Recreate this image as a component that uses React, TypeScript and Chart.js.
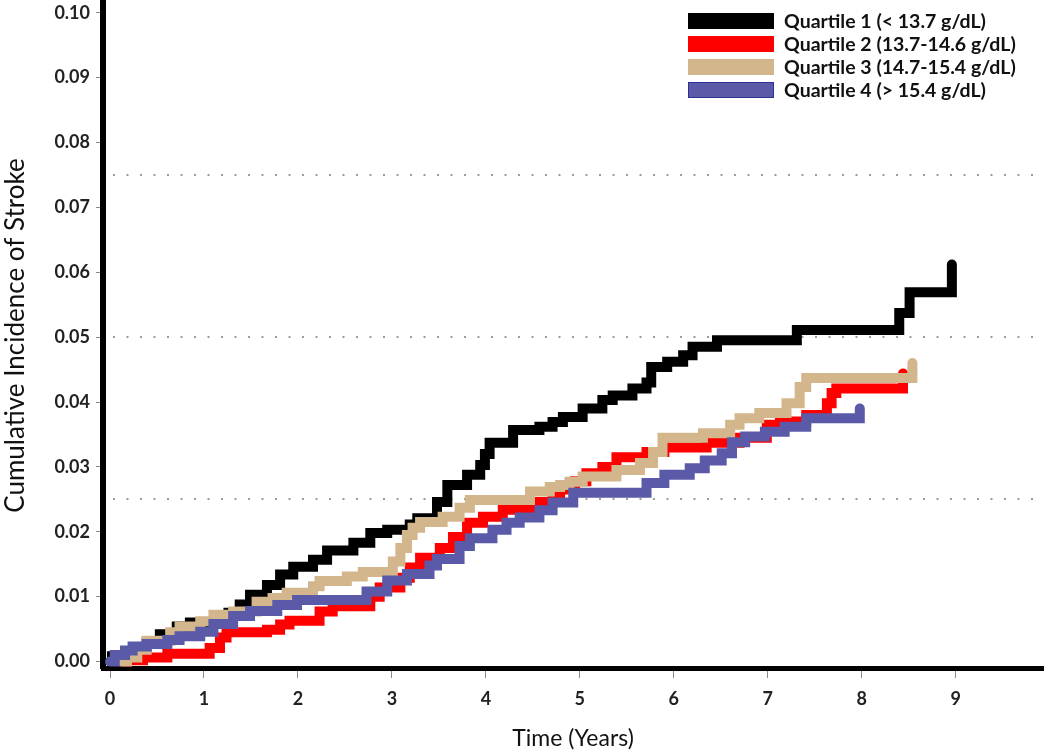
import { useEffect, useRef } from "react";
import { Chart, ChartConfiguration, registerables } from "chart.js";

Chart.register(...registerables);

// Kaplan-Meier style cumulative incidence (years, incidence)
const timeQ1 = [0, 0.02, 0.16, 0.29, 0.39, 0.53, 0.71, 0.85, 1.12, 1.26, 1.38, 1.49, 1.67, 1.81, 1.95, 2.16, 2.31, 2.59, 2.77, 2.95, 3.19, 3.27, 3.48, 3.59, 3.8, 3.94, 3.99, 4.04, 4.29, 4.57, 4.71, 4.82, 5.03, 5.24, 5.35, 5.56, 5.71, 5.76, 5.93, 6.1, 6.2, 6.46, 7.31, 8.4, 8.51, 8.96];
const incQ1 = [0, 0.0008, 0.0015, 0.0022, 0.003, 0.0042, 0.0054, 0.006, 0.0065, 0.0075, 0.0088, 0.0103, 0.0118, 0.0134, 0.0146, 0.0157, 0.0171, 0.0183, 0.0198, 0.0203, 0.0211, 0.0221, 0.0246, 0.0272, 0.0288, 0.0303, 0.032, 0.0337, 0.0357, 0.0362, 0.0369, 0.0377, 0.039, 0.0403, 0.041, 0.0421, 0.043, 0.0454, 0.0462, 0.0472, 0.0485, 0.0495, 0.0511, 0.0537, 0.0569, 0.0612];

const timeQ2 = [0.12, 0.18, 0.35, 0.61, 1.06, 1.17, 1.24, 1.67, 1.81, 1.91, 2.23, 2.37, 2.77, 2.87, 3.09, 3.19, 3.3, 3.51, 3.65, 3.8, 3.97, 4.18, 4.5, 4.71, 4.79, 4.95, 5.07, 5.24, 5.39, 5.71, 5.9, 6.35, 6.7, 6.99, 7.13, 7.41, 7.63, 7.68, 7.73, 8.44];
const incQ2 = [0, 0.0002, 0.0006, 0.0012, 0.0021, 0.0037, 0.0045, 0.0049, 0.0057, 0.0063, 0.0077, 0.0085, 0.01, 0.0114, 0.0129, 0.0145, 0.016, 0.0175, 0.0192, 0.0214, 0.0223, 0.0234, 0.0246, 0.0255, 0.0265, 0.0278, 0.029, 0.03, 0.0315, 0.0323, 0.033, 0.0337, 0.0345, 0.0365, 0.037, 0.038, 0.0398, 0.0414, 0.0421, 0.0444];

const timeQ3 = [0.12, 0.18, 0.29, 0.39, 0.64, 0.74, 0.96, 1.1, 1.31, 1.56, 1.73, 1.88, 2.16, 2.23, 2.52, 2.69, 3.01, 3.09, 3.16, 3.22, 3.3, 3.54, 3.72, 3.83, 4.47, 4.68, 4.79, 4.89, 5.03, 5.39, 5.64, 5.78, 5.88, 6.31, 6.6, 6.7, 6.91, 7.2, 7.34, 7.41, 8.54];
const incQ3 = [0, 0.0006, 0.0018, 0.0032, 0.0045, 0.0054, 0.0062, 0.0072, 0.0077, 0.0092, 0.0098, 0.0106, 0.0116, 0.0124, 0.0131, 0.0138, 0.0154, 0.0175, 0.0195, 0.0206, 0.0215, 0.0223, 0.0237, 0.0249, 0.0262, 0.0269, 0.0272, 0.0277, 0.0285, 0.0295, 0.0306, 0.0323, 0.0345, 0.0352, 0.0365, 0.0375, 0.0383, 0.0398, 0.0423, 0.0437, 0.046];

const timeQ4 = [0, 0.05, 0.16, 0.24, 0.39, 0.61, 0.74, 0.96, 1.1, 1.31, 1.49, 1.78, 1.99, 2.73, 2.95, 3.16, 3.4, 3.48, 3.72, 3.83, 4.07, 4.22, 4.36, 4.57, 4.71, 4.93, 5.71, 5.9, 6.17, 6.33, 6.51, 6.62, 6.76, 6.97, 7.18, 7.41, 7.98];
const incQ4 = [0, 0.001, 0.0017, 0.0023, 0.0027, 0.0033, 0.0039, 0.0046, 0.0058, 0.007, 0.0078, 0.0087, 0.0095, 0.0108, 0.0125, 0.0135, 0.0148, 0.0158, 0.0178, 0.019, 0.0203, 0.0214, 0.0222, 0.0233, 0.0245, 0.026, 0.0275, 0.0288, 0.0298, 0.031, 0.0321, 0.0338, 0.0347, 0.0354, 0.0362, 0.0375, 0.039];

const quartileLabels = [
  "Quartile 1 (< 13.7 g/dL)",
  "Quartile 2 (13.7-14.6 g/dL)",
  "Quartile 3 (14.7-15.4 g/dL)",
  "Quartile 4 (> 15.4 g/dL)",
];
const quartileColors = ["#000000", "#ff0000", "#d4b68c", "#5a5aa8"];
const refLines = [0.025, 0.05, 0.075];

const FONT = "Lato, 'Open Sans', sans-serif";

const toPoints = (t: number[], v: number[]) => t.map((x, i) => ({ x, y: v[i] }));

const refLinePlugin = {
  id: "refLines",
  beforeDatasetsDraw(chart: any) {
    const { ctx, chartArea, scales } = chart;
    ctx.save();
    ctx.strokeStyle = "#9c9c9c";
    ctx.lineWidth = 2;
    ctx.setLineDash([2, 11.5]);
    refLines.forEach((v) => {
      const y = Math.round(scales.y.getPixelForValue(v));
      ctx.beginPath();
      ctx.moveTo(chartArea.left + 10, y);
      ctx.lineTo(chartArea.right, y);
      ctx.stroke();
    });
    ctx.restore();
  },
};

export default function App() {
  const canvasRef = useRef<HTMLCanvasElement>(null);
  const chartRef = useRef<Chart | null>(null);

  useEffect(() => {
    if (!canvasRef.current) return;
    const ctx = canvasRef.current.getContext("2d");
    if (!ctx) return;
    if (chartRef.current) chartRef.current.destroy();

    const series = [
      toPoints(timeQ1, incQ1),
      toPoints(timeQ2, incQ2),
      toPoints(timeQ3, incQ3),
      toPoints(timeQ4, incQ4),
    ];
    // blue on top, then tan, red, black underneath
    const drawOrder = [3, 2, 1, 0];

    const config: ChartConfiguration = {
      type: "line",
      data: {
        datasets: series.map((data, i) => ({
          label: quartileLabels[i],
          data,
          borderColor: quartileColors[i],
          backgroundColor: quartileColors[i],
          borderWidth: 10,
          stepped: "before" as const,
          pointRadius: 0,
          fill: false,
          borderCapStyle: "round" as const,
          order: drawOrder[i],
        })),
      },
      options: {
        animation: false,
        responsive: true,
        maintainAspectRatio: false,
        layout: { padding: { top: 3, right: 7, left: 0, bottom: 0 } },
        plugins: {
          legend: { display: false },
          tooltip: { enabled: false },
        },
        scales: {
          x: {
            type: "linear",
            min: -0.075,
            max: 9.93,
            ticks: {
              stepSize: 1,
              includeBounds: false,
              color: "#222",
              font: { family: FONT, size: 18, weight: "bold" },
              padding: 10,
              callback: (v: any) => String(v),
            },
            grid: { drawOnChartArea: false, tickLength: 10, tickColor: "#8a8a8a", lineWidth: 1 },
            border: { color: "#000", width: 5 },
            title: {
              display: true,
              text: "Time (Years)",
              color: "#111",
              font: { family: FONT, size: 23 },
              padding: { top: 4, bottom: 2 },
            },
            afterFit: (scale: any) => {
              scale.height = 86;
              scale.paddingLeft = 0;
              scale.paddingRight = 0;
            },
          },
          y: {
            type: "linear",
            min: -0.001,
            max: 0.1015,
            ticks: {
              stepSize: 0.01,
              includeBounds: false,
              color: "#222",
              font: { family: FONT, size: 18, weight: "bold" },
              padding: 6,
              callback: (v: any) => Number(v).toFixed(2),
            },
            grid: { drawOnChartArea: false, tickLength: 7, tickColor: "#8a8a8a", lineWidth: 1 },
            border: { color: "#000", width: 6 },
            title: {
              display: true,
              text: "Cumulative Incidence of Stroke",
              color: "#111",
              font: { family: FONT, size: 26 },
              padding: { top: 0, bottom: 0 },
            },
            afterFit: (scale: any) => {
              scale.width = 103;
              scale.paddingTop = 0;
              scale.paddingBottom = 0;
            },
          },
        },
      },
      plugins: [refLinePlugin],
    };

    chartRef.current = new Chart(ctx, config);
    return () => {
      if (chartRef.current) {
        chartRef.current.destroy();
        chartRef.current = null;
      }
    };
  }, []);

  return (
    <div style={{ position: "absolute", left: 0, top: 0, width: 1050, height: 754, background: "#fff" }}>
      <canvas ref={canvasRef} />
      <div style={{ position: "absolute", left: 688, top: 9, fontFamily: FONT }}>
        {quartileLabels.map((label, i) => (
          <div key={label} style={{ display: "flex", alignItems: "center", height: 23 }}>
            <span
              style={{
                display: "inline-block",
                width: 84,
                height: 14,
                background: quartileColors[i],
                border: `1px solid ${i === 3 ? "#2f2f96" : quartileColors[i]}`,
                marginRight: 10,
              }}
            />
            <span style={{ fontSize: 19.5, fontWeight: "bold", color: "#111", whiteSpace: "nowrap" }}>{label}</span>
          </div>
        ))}
      </div>
    </div>
  );
}
